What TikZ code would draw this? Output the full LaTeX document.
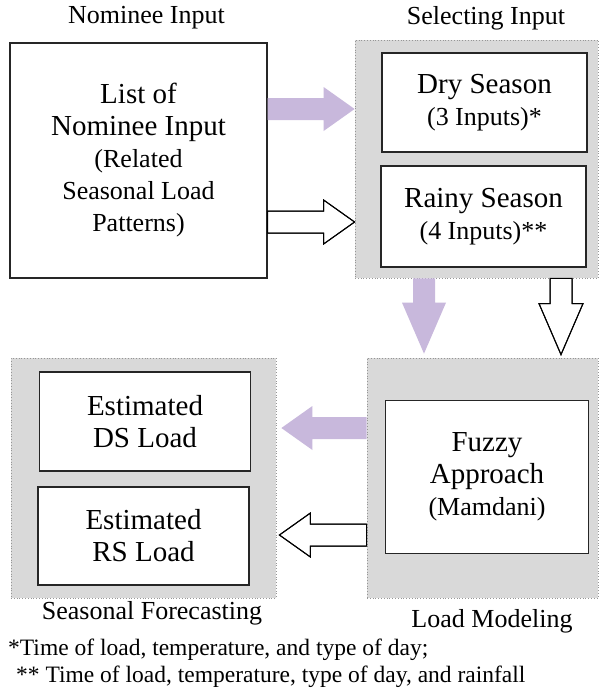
\documentclass[tikz,border=0pt]{standalone}
\usepackage{fontspec}
\setmainfont{Liberation Serif}
\usepackage{tikz}
\usetikzlibrary{calc}
\usetikzlibrary{positioning}
\definecolor{lavender}{RGB}{200, 184, 220}
\definecolor{panelgray}{RGB}{217, 217, 217}
\definecolor{dotgray}{RGB}{150, 150, 150}

\newcommand{\smalltext}{\fontsize{26}{30}\selectfont}

\tikzset{
    box/.style      = {draw=black!85, line width=1.5pt, fill=white, align=center, inner sep=0pt,
                       font=\fontsize{29}{32}\selectfont},
    panel/.style    = {draw=dotgray, dotted, line width=0.8pt, fill=panelgray, inner sep=0pt},
    title/.style    = {font=\fontsize{26}{30}\selectfont},
    note/.style     = {font=\fontsize{23.5}{26}\selectfont, anchor=west, inner sep=0pt},
    purplearrow/.style = {fill=lavender, draw=none},
    whitearrow/.style  = {fill=white, draw=black, line width=1pt, line join=miter},
}

% block arrow from #3 to #4 (head length #1), half shaft width 11, half head width 22
\newcommand{\blockarrow}[4][31pt]{%
    \coordinate (ba-h) at ($(#4)!#1!(#3)$);
    \fill[#2] ($(#3)!11pt!90:(#4)$) -- ($(ba-h)!11pt!90:(#4)$) -- ($(ba-h)!22pt!90:(#4)$) -- (#4)
        -- ($(ba-h)!22pt!-90:(#4)$) -- ($(ba-h)!11pt!-90:(#4)$) -- ($(#3)!11pt!-90:(#4)$) -- cycle;
    \draw[#2, fill=none] ($(#3)!11pt!90:(#4)$) -- ($(ba-h)!11pt!90:(#4)$) -- ($(ba-h)!22pt!90:(#4)$) -- (#4)
        -- ($(ba-h)!22pt!-90:(#4)$) -- ($(ba-h)!11pt!-90:(#4)$) -- ($(#3)!11pt!-90:(#4)$);
}

\begin{document}
\begin{tikzpicture}[x=1pt, y=-1pt]
            \useasboundingbox[fill=white] (0, 0) rectangle (609, 697);
            % Nominee input
            \node[title]                                      (tnom)  at (146.5,  18.0) {Nominee Input};
            \node[box, line width=1.1pt, minimum width=257pt, minimum height=235pt]
                                                              (nominee) at (138.5, 160.5)
                 {List of\\Nominee Input\\{\smalltext(Related}\\{\smalltext Seasonal Load}\\{\smalltext Patterns)}};
            % Selecting input
            \node[title]                                      (tsel)  at (486.0,  18.0) {Selecting Input};
            \node[panel, minimum width=243pt, minimum height=238pt] (selpanel) at (476.5, 159.0) {};
            \node[box, minimum width=205pt, minimum height=99pt]    (dry)      at (484.5, 102.5)
                 {Dry Season\\{\smalltext(3 Inputs)*}};
            \node[box, minimum width=205pt, minimum height=101pt]   (rainy)    at (483.5, 216.5)
                 {Rainy Season\\{\smalltext(4 Inputs)**}};
            % Load modeling
            \node[panel, minimum width=231pt, minimum height=240pt] (loadpanel) at (482.5, 478.0) {};
            \node[box, minimum width=203pt, minimum height=153pt]   (fuzzy)     at (487.0, 477.0)
                 {Fuzzy\\Approach\\{\smalltext(Mamdani)}};
            \node[title]                                      (tload) at (492.0, 621.0) {Load Modeling};
            % Seasonal forecasting
            \node[panel, minimum width=265pt, minimum height=240pt] (seaspanel) at (143.5, 478.0) {};
            \node[box, minimum width=211pt, minimum height=99pt]    (ds)        at (145.0, 421.5)
                 {Estimated\\DS Load};
            \node[box, minimum width=211pt, minimum height=98pt]    (rs)        at (143.5, 536.0)
                 {Estimated\\RS Load};
            \node[title]                                      (tseas) at (152.0, 613.0) {Seasonal Forecasting};
            % Arrows
            \coordinate (a1s) at (nominee.east |- 0, 109);
            \coordinate (a1e) at (selpanel.west |- 0, 109);
            \coordinate (a2s) at (nominee.east |- 0, 222);
            \coordinate (a2e) at (selpanel.west |- 0, 222);
            \coordinate (a3s) at (selpanel.south -| 424, 0);
            \coordinate (a3e) at ($(loadpanel.north -| 424, 0) + (0, -4)$);
            \coordinate (a4s) at (selpanel.south -| 561, 0);
            \coordinate (a4e) at ($(loadpanel.north -| 561, 0) + (0, -3)$);
            \coordinate (a5s) at (loadpanel.west |- 0, 428);
            \coordinate (a5e) at ($(seaspanel.east |- 0, 428) + (5, 0)$);
            \coordinate (a6s) at (loadpanel.west |- 0, 535);
            \coordinate (a6e) at ($(seaspanel.east |- 0, 535) + (3, 0)$);
            \blockarrow{purplearrow}{a1s}{a1e}
            \blockarrow{whitearrow}{a2s}{a2e}
            \blockarrow[51pt]{purplearrow}{a3s}{a3e}
            \blockarrow[51pt]{whitearrow}{a4s}{a4e}
            \blockarrow{purplearrow}{a5s}{a5e}
            \blockarrow{whitearrow}{a6s}{a6e}
            % Footnotes
            \node[note] (n1) at (8, 650)  {*Time of load, temperature, and type of day;};
            \node[note] (n2) at (16, 677) {** Time of load, temperature, type of day, and rainfall};
        \end{tikzpicture}
\end{document}
